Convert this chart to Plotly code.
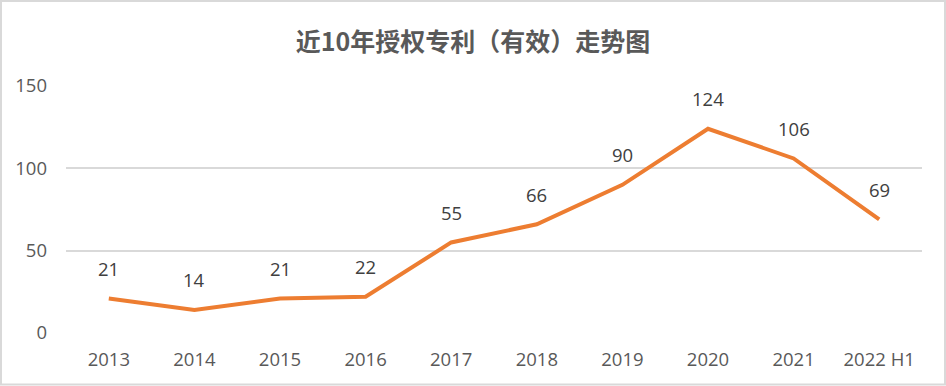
import plotly.graph_objects as go

categories = ["2013", "2014", "2015", "2016", "2017", "2018", "2019", "2020", "2021", "2022 H1"]
values = [21, 14, 21, 22, 55, 66, 90, 124, 106, 69]
y_ticks = [0, 50, 100, 150]
title_text = "近10年授权专利（有效）走势图"

TXT = "#595959"
GRID = "#d9d9d9"
ORANGE = "#ED7D31"
FONT = "Open Sans, Noto Sans CJK SC, sans-serif"
FS = 18.5

fig = go.Figure()
fig.add_trace(go.Scatter(
    x=categories, y=values, mode="lines",
    line=dict(color=ORANGE, width=4), hoverinfo="skip", showlegend=False,
))
for i, v in enumerate(values):
    fig.add_annotation(x=i, y=v, text=str(v), showarrow=False, yshift=30,
                       font=dict(size=FS, color="#404040", family=FONT))

W, H = 946, 386
L, R, T, B = 66, 24, 86, 53
pw, ph = W - L - R, H - T - B

def px(x):
    return (x - L) / pw

def py(y):
    return (H - B - y) / ph

fig.add_shape(type="rect", xref="paper", yref="paper",
              x0=px(1), x1=px(945), y0=py(384.5), y1=py(1),
              line=dict(color=GRID, width=2), fillcolor="rgba(0,0,0,0)", layer="above")

fig.update_layout(
    width=W, height=H,
    margin=dict(l=L, r=R, t=T, b=B),
    paper_bgcolor="white", plot_bgcolor="white",
    title=dict(text="<b>" + title_text + "</b>", x=0.5, xanchor="center",
               y=1 - 42 / H, yanchor="middle",
               font=dict(size=25, color=TXT, family="Noto Sans CJK SC, sans-serif")),
    font=dict(family=FONT, color=TXT, size=FS),
    xaxis=dict(type="category", range=[-0.5, len(categories) - 0.5],
               showgrid=False, showline=False, zeroline=False,
               tickfont=dict(size=FS, color=TXT), ticklabelstandoff=13),
    yaxis=dict(range=[0, 150], tickvals=y_ticks, showgrid=True, gridcolor=GRID,
               gridwidth=1.5, zeroline=False, showline=False,
               tickfont=dict(size=FS, color=TXT), ticklabelstandoff=18),
)

fig.write_html("out.html")
